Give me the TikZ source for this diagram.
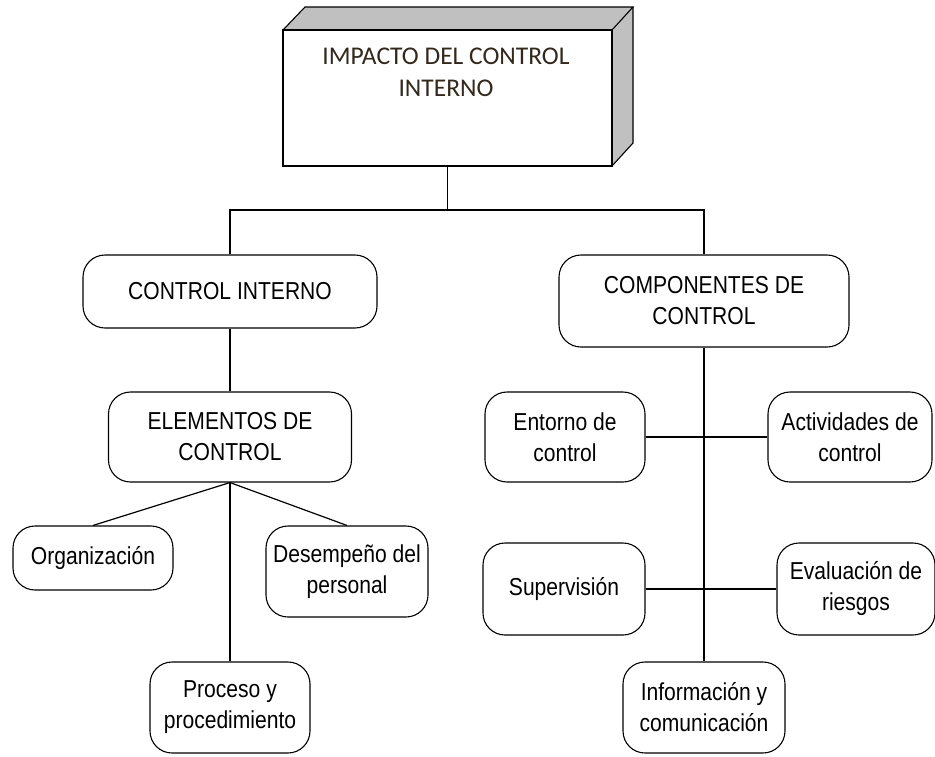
\documentclass[tikz,border=0pt]{standalone}
\usepackage{fontspec}
\newfontfamily\boxfont[FakeStretch=0.86]{Liberation Sans}
\newfontfamily\titlefont{Carlito}
\definecolor{sidegray}{RGB}{192,192,192}
\definecolor{titleink}{RGB}{50,40,28}
\begin{document}
\begin{tikzpicture}[x=1pt,y=-1pt,
  line width=1.1pt,
  pill/.style={draw, rounded corners=22pt, align=center, inner sep=0pt,
    font=\boxfont\fontsize{24.5}{31}\selectfont},
  link/.style={line width=1.2pt}]
\useasboundingbox (0,0) rectangle (935,756);

% 3-D title block
\fill[sidegray] (283,30) -- (305,7) -- (633,7) -- (612,30) -- cycle;
\fill[sidegray] (612,30) -- (633,7) -- (633,143) -- (612,166) -- cycle;
\draw (283,30) -- (305,7) -- (633,7) -- (612,30);
\draw (633,7) -- (633,143) -- (612,166);
\node[draw, fill=white, minimum width=329pt, minimum height=136pt, inner sep=0pt] (imp) at (447.5,98) {};
\draw[line width=1.8pt] (imp.north east) -- (imp.south east);
\node[align=center, text=titleink, font=\titlefont\fontsize{25.5}{32}\selectfont] (impt) at (446,72)
  {IMPACTO DEL CONTROL\\INTERNO};

% first level
\node[pill, minimum width=294pt, minimum height=73pt] (ci) at (230,291.5) {CONTROL INTERNO};
\node[pill, minimum width=290pt, minimum height=92pt] (comp) at (704,301) {COMPONENTES DE\\CONTROL};

% left branch
\node[pill, minimum width=243pt, minimum height=90pt] (elem) at (230,437) {ELEMENTOS DE\\CONTROL};
\node[pill, minimum width=160pt, minimum height=64pt] (org) at (93,558) {Organizaci\'on};
\node[pill, minimum width=162pt, minimum height=91pt] (des) at (347,571.5) {Desempe\~no del\\personal};
\node[pill, minimum width=160pt, minimum height=91pt] (proc) at (230,707.5) {Proceso y\\procedimiento};

% right branch
\node[pill, minimum width=160pt, minimum height=90pt] (ent) at (565,437) {Entorno de\\control};
\node[pill, minimum width=164pt, minimum height=90pt] (act) at (850,437) {Actividades de\\control};
\node[pill, minimum width=162pt, minimum height=92pt] (sup) at (564,589) {Supervisi\'on};
\node[pill, minimum width=158pt, minimum height=92pt] (eval) at (856,589) {Evaluaci\'on de\\riesgos};
\node[pill, minimum width=162pt, minimum height=91pt] (info) at (704,707.5) {Informaci\'on y\\comunicaci\'on};

% connectors
\coordinate (jtop) at (447.5,210);
\draw[link] (imp.south) -- (jtop);
\draw[link] (ci.north) |- (jtop) -| (comp.north);
\draw[link] (ci.south) -- (elem.north);
\draw[link] (elem.south) -- (org.north);
\draw[link] (elem.south) -- (des.north);
\draw[link] (elem.south) -- (proc.north);
\draw[link] (comp.south) -- (info.north);
\draw[link] (ent.east) -- (act.west);
\draw[link] (sup.east) -- (eval.west);
\end{tikzpicture}
\end{document}
